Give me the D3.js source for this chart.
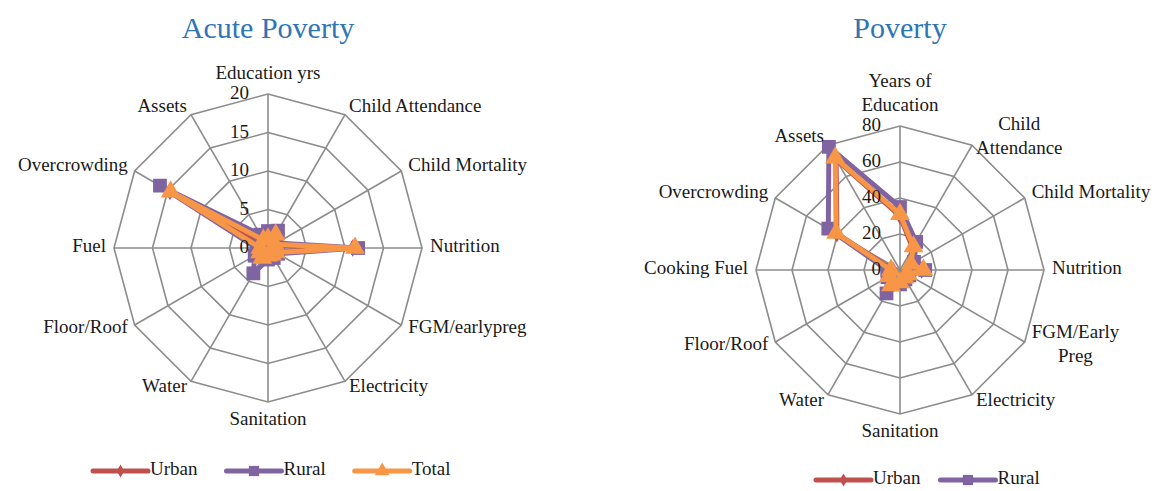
<html>
<head>
<meta charset="utf-8">
<style>
  body { margin: 0; background: #fff; }
  text { font-family: "Liberation Serif", "DejaVu Serif", serif; fill: #1a1a1a; }
</style>
</head>
<body>
<script src="https://cdn.jsdelivr.net/npm/d3@7"></script>
<script>
// ---- data ----
var acuteAxes = ["Education yrs", "Child Attendance", "Child Mortality", "Nutrition", "FGM/earlypreg",
  "Electricity", "Sanitation", "Water", "Floor/Roof", "Fuel", "Overcrowding", "Assets"];
var acuteTicks = [0, 5, 10, 15, 20];
var acuteUrban = [0.9, 1.6, 0.8, 11.0, 1.0, 0.5, 0.6, 0.9, 0.6, 0.6, 14.7, 0.9];
var acuteRural = [2.2, 2.6, 1.3, 11.7, 1.5, 1.5, 1.5, 3.8, 2.0, 1.5, 16.2, 2.0];
var acuteTotal = [1.2, 2.0, 1.0, 11.3, 1.2, 1.0, 1.0, 1.5, 1.2, 1.0, 14.6, 1.2];

var povertyAxes = ["Years of\nEducation", "Child\nAttendance", "Child Mortality", "Nutrition", "FGM/Early\nPreg",
  "Electricity", "Sanitation", "Water", "Floor/Roof", "Cooking Fuel", "Overcrowding", "Assets"];
var povertyTicks = [0, 20, 40, 60, 80];
var povertyUrban = [30, 14, 6, 12, 4, 4, 6, 8, 6, 4, 40.5, 71];
var povertyRural = [35, 18, 9, 14, 6, 6, 8, 15, 8, 7, 46, 79];
var povertyTotal = [31, 15, 7, 13, 5, 5, 7, 10, 7, 5, 41, 72];

var seriesNames = ["Urban", "Rural", "Total"];
var seriesColors = {"Urban": "#C0504D", "Rural": "#8064A2", "Total": "#F79646"};
var seriesSymbols = {"Urban": d3.symbolDiamond, "Rural": d3.symbolSquare, "Total": d3.symbolTriangle};
var symbolSizes = {"Urban": 90, "Rural": 190, "Total": 170};

var svg = d3.select("body").append("svg").attr("width", 1158).attr("height", 491);

function radar(opt) {
  var g = svg.append("g").attr("transform", "translate(" + opt.cx + "," + opt.cy + ")");
  var n = opt.axes.length;
  var r = d3.scaleLinear().domain([0, d3.max(opt.ticks)]).range([0, opt.radius]);
  var ang = function(i) { return i * 2 * Math.PI / n; };

  // rings
  var ring = d3.lineRadial().angle(function(d, i) { return ang(i); }).radius(function(d) { return r(d); })
    .curve(d3.curveLinearClosed);
  opt.ticks.slice(1).forEach(function(t) {
    g.append("path").attr("d", ring(d3.range(n).map(function() { return t; })))
      .attr("fill", "none").attr("stroke", "#8c8c8c").attr("stroke-width", 1.6);
  });
  // spokes
  g.selectAll("line.spoke").data(opt.axes).enter().append("line")
    .attr("x1", 0).attr("y1", 0)
    .attr("x2", function(d, i) { return Math.sin(ang(i)) * r(d3.max(opt.ticks)); })
    .attr("y2", function(d, i) { return -Math.cos(ang(i)) * r(d3.max(opt.ticks)); })
    .attr("stroke", "#8c8c8c").attr("stroke-width", 1.6);

  // series
  var line = d3.lineRadial().angle(function(d, i) { return ang(i); }).radius(function(d) { return r(d); })
    .curve(d3.curveLinearClosed);
  opt.series.forEach(function(s) {
    g.append("path").attr("d", line(s.values)).attr("fill", "none")
      .attr("stroke", seriesColors[s.name]).attr("stroke-width", 5).attr("stroke-linejoin", "round");
    g.selectAll(null).data(s.values).enter().append("path")
      .attr("d", d3.symbol().type(seriesSymbols[s.name]).size(symbolSizes[s.name]))
      .attr("transform", function(d, i) {
        return "translate(" + (Math.sin(ang(i)) * r(d)) + "," + (-Math.cos(ang(i)) * r(d)) + ")";
      })
      .attr("fill", seriesColors[s.name]);
  });

  // tick labels
  g.selectAll("text.tick").data(opt.ticks).enter().append("text")
    .attr("x", -19).attr("y", function(d) { return -r(d) + 1; })
    .attr("text-anchor", "end").attr("dominant-baseline", "middle")
    .style("font-size", "19px").text(function(d) { return d; });

  // axis labels
  var R = r(d3.max(opt.ticks));
  opt.axes.forEach(function(lab, i) {
    var s = Math.sin(ang(i)), c = -Math.cos(ang(i));
    var lines = lab.split("\n");
    var lh = 24;
    var vx = s * R, vy = c * R;
    var pad = 8;
    var x = vx + s * pad, y = vy + c * pad;
    var anchor = Math.abs(s) < 0.1 ? "middle" : (s > 0 ? "start" : "end");
    if (Math.abs(s) < 0.1) y = vy + c * 19 - (c < 0 ? (lines.length - 1) * lh : 0);
    else y = y - (lines.length - 1) * lh / 2;
    var t = g.append("text").attr("text-anchor", "middle").attr("dominant-baseline", "middle")
      .style("font-size", "19px");
    lines.forEach(function(l, k) {
      t.append("tspan").attr("x", 0).attr("y", y + k * lh).text(l);
    });
    // block width so multi-line labels stay centred within themselves
    var w = d3.max(t.selectAll("tspan").nodes(), function(nd) { return nd.getComputedTextLength(); });
    var bx = anchor === "middle" ? x : (anchor === "start" ? x + w / 2 : x - w / 2);
    t.selectAll("tspan").attr("x", bx);
  });

  // title
  svg.append("text").attr("x", opt.cx).attr("y", 38).attr("text-anchor", "middle")
    .style("font-size", "30px").style("fill", "#2F75B5").text(opt.title);

  // legend
  var lg = svg.append("g").attr("transform", "translate(" + opt.legendX + "," + opt.legendY + ")");
  var xpos = 0;
  opt.legend.forEach(function(name) {
    var e = lg.append("g").attr("transform", "translate(" + xpos + ",0)");
    e.append("line").attr("x1", 0).attr("x2", 55).attr("y1", 0).attr("y2", 0)
      .attr("stroke", seriesColors[name]).attr("stroke-width", 5).attr("stroke-linecap", "round");
    e.append("path").attr("transform", "translate(27.5,0)")
      .attr("d", d3.symbol().type(seriesSymbols[name]).size(symbolSizes[name] * 0.55))
      .attr("fill", seriesColors[name]);
    var tx = e.append("text").attr("x", 57).attr("y", 0).attr("dominant-baseline", "middle")
      .style("font-size", "19px").text(name);
    xpos += 57 + tx.node().getComputedTextLength() + opt.legendGap;
  });
}

radar({
  title: "Acute Poverty", cx: 268, cy: 248, radius: 154, axes: acuteAxes, ticks: acuteTicks,
  series: [{name: "Urban", values: acuteUrban}, {name: "Rural", values: acuteRural}, {name: "Total", values: acuteTotal}],
  legend: seriesNames, legendX: 93, legendY: 471, legendGap: 29
});
radar({
  title: "Poverty", cx: 900, cy: 270, radius: 144, axes: povertyAxes, ticks: povertyTicks,
  series: [{name: "Urban", values: povertyUrban}, {name: "Rural", values: povertyRural}, {name: "Total", values: povertyTotal}],
  legend: ["Urban", "Rural"], legendX: 816, legendY: 480, legendGap: 20
});
</script>
</body>
</html>
